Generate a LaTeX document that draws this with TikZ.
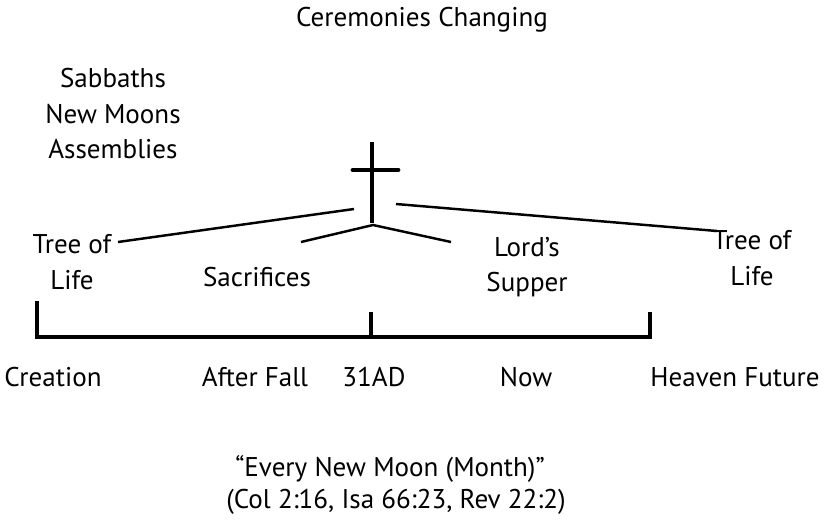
\documentclass[tikz,border=0pt]{standalone}
\usepackage{fontspec}
\setmainfont{PT Sans}
\usetikzlibrary{positioning,calc}

\begin{document}
\begin{tikzpicture}[x=0.02cm,y=-0.02cm,
    lbl/.style={font=\fontsize{15.4}{20.2}\selectfont,align=center,inner sep=0pt},
    bar/.style={line width=2.4pt},
    ray/.style={line width=1.4pt}]
        \useasboundingbox (0,0) rectangle (824,524);
        % Headings
        \node[lbl] (title) at (422,20) {Ceremonies Changing};
        \node[lbl] (feasts) at (113,114) {Sabbaths\\New Moons\\Assemblies};
        % Cross
        \coordinate (T) at (372,142);
        \coordinate (F) at (372,223);
        \draw[line width=2.8pt] (T)--(F);
        \draw[line width=2.8pt,line cap=round] (353,170)--(398,170);
        % Rays
        \coordinate (H) at (373,225);
        \coordinate (L1) at (118,242);
        \coordinate (L2) at (354,209);
        \coordinate (R1) at (396,204);
        \coordinate (R2) at (717,231);
        \draw[ray] (L1)--(L2);
        \draw[ray] (R1)--(R2);
        \draw[ray] (301,242)--(H)--(451,242);
        \node[lbl] (treeL) at (72,262) {Tree of\\Life};
        \node[lbl] (treeR) at (752,258) {Tree of\\Life};
        \node[lbl] (sacr) at (257,277) {Sacrifices};
        \node[lbl] (supper) at (527,267) {Lord’s\\Supper};
        % Timeline
        \coordinate (A) at (37,337);
        \coordinate (M) at (371,337);
        \coordinate (B) at (650,337);
        \draw[bar] ($(A)+(0,-36)$)--(A)--(B)--($(B)+(0,-25)$);
        \draw[bar] (M)--($(M)+(0,-25)$);
        \node[lbl] (creation) at (53,377) {Creation};
        \node[lbl] (fall) at (255,377) {After Fall};
        \node[lbl] (ad) at (374,377) {31AD};
        \node[lbl] (now) at (526,377) {Now};
        \node[lbl] (heaven) at (735,377) {Heaven Future};
        % Note
        \node[lbl] (moon) at (390,469) {“Every New Moon (Month)”};
        \node[lbl] (refs) at (396,502) {(Col 2:16, Isa 66:23, Rev 22:2)};
      \end{tikzpicture}
\end{document}
